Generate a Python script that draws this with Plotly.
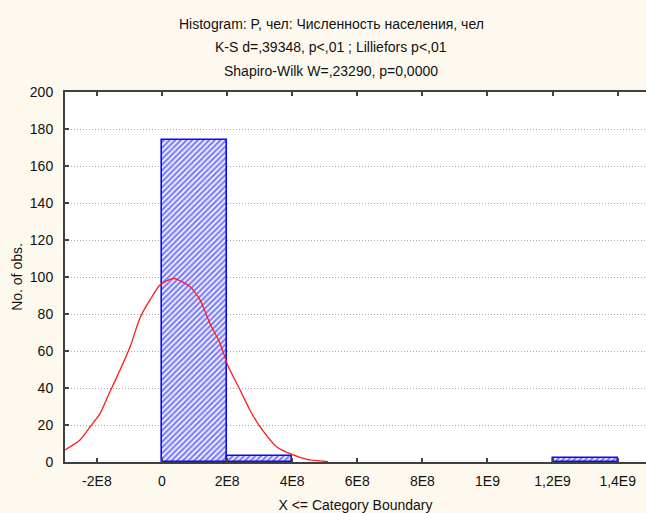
import plotly.graph_objects as go

# Histogram bins (left edge, right edge) and counts
bin_left = [0.0, 2e8, 1.2e9]
bin_right = [2e8, 4e8, 1.4e9]
counts = [174, 3, 2]

# Fitted normal curve
curve_x = [-2.98e8, -2.52e8, -2.21e8, -1.90e8, -1.60e8, -1.29e8, -0.98e8, -0.68e8,
           -0.37e8, -0.06e8, 0.35e8, 0.86e8, 1.17e8, 1.47e8, 1.78e8, 2.04e8,
           2.40e8, 2.70e8, 3.01e8, 3.52e8, 4.03e8, 4.45e8, 5.10e8]
curve_y = [6.5, 11.9, 19.0, 26.3, 38.0, 49.7, 62.3, 77.7,
           87.6, 95.7, 99.3, 94.8, 87.6, 75.0, 64.2, 51.5,
           38.9, 28.1, 19.1, 8.3, 3.8, 1.4, 0.2]

x_tickvals = [-2e8, 0, 2e8, 4e8, 6e8, 8e8, 1e9, 1.2e9, 1.4e9]
x_ticktext = ["-2E8", "0", "2E8", "4E8", "6E8", "8E8", "1E9", "1,2E9", "1,4E9"]
y_tickvals = [0, 20, 40, 60, 80, 100, 120, 140, 160, 180, 200]

title_lines = [
    "Histogram: P, чел: Численность населения, чел",
    "K-S d=,39348, p<,01 ; Lilliefors p<,01",
    "Shapiro-Wilk W=,23290, p=0,0000",
]

FONT = "Liberation Sans, Arial, sans-serif"
BG = "#FEF9EE"
TXT = "#111111"

centers = [(a + b) / 2 for a, b in zip(bin_left, bin_right)]
widths = [b - a for a, b in zip(bin_left, bin_right)]

fig = go.Figure()
fig.add_trace(go.Bar(
    x=centers, y=counts, width=widths,
    marker=dict(
        color="white",
        line=dict(color="#0a0aff", width=1.6),
        pattern=dict(shape="/", fgcolor="#0000ff", bgcolor="white", size=4, solidity=0.6),
    ),
    hoverinfo="skip",
))
fig.add_trace(go.Scatter(
    x=curve_x, y=curve_y, mode="lines",
    line=dict(color="#ff1a1a", width=1.3, shape="spline", smoothing=0.6),
    hoverinfo="skip",
))

annotations = []
for txt, shift in zip(title_lines, [68, 45, 21]):
    annotations.append(dict(
        text=txt, xref="paper", yref="paper", x=0.458, y=1.0,
        xanchor="center", yanchor="middle", yshift=shift, showarrow=False,
        font=dict(family=FONT, size=14, color=TXT),
    ))

fig.update_layout(
    width=646, height=513,
    margin=dict(l=65, r=0, t=92, b=51),
    paper_bgcolor=BG, plot_bgcolor="white",
    showlegend=False,
    bargap=0,
    font=dict(family=FONT, size=14, color=TXT),
    annotations=annotations,
)
fig.update_xaxes(
    range=[-2.98e8, 1.487e9],
    tickvals=x_tickvals, ticktext=x_ticktext,
    ticks="inside", ticklen=4, tickwidth=1.5, tickcolor="#404040",
    showline=True, linecolor="#404040", linewidth=2, mirror="ticks",
    showgrid=False, zeroline=False,
    ticklabelstandoff=5,
    tickfont=dict(size=14, color=TXT),
    title=dict(text="X <= Category Boundary", standoff=13, font=dict(size=14, color=TXT)),
)
fig.update_yaxes(
    range=[0, 200],
    tickvals=y_tickvals,
    ticks="inside", ticklen=4, tickwidth=1.5, tickcolor="#404040",
    showline=True, linecolor="#404040", linewidth=2,
    showgrid=True, gridcolor="#a8a8a8", griddash="1px,2px", gridwidth=1,
    zeroline=False,
    ticklabelstandoff=7,
    tickfont=dict(size=14, color=TXT),
    title=dict(text="No. of obs.", standoff=4, font=dict(size=14, color=TXT)),
)

fig.write_html(
    "out.html",
    config={"displayModeBar": False},
    post_script="document.body.style.margin='0';document.body.style.overflow='hidden';",
)
